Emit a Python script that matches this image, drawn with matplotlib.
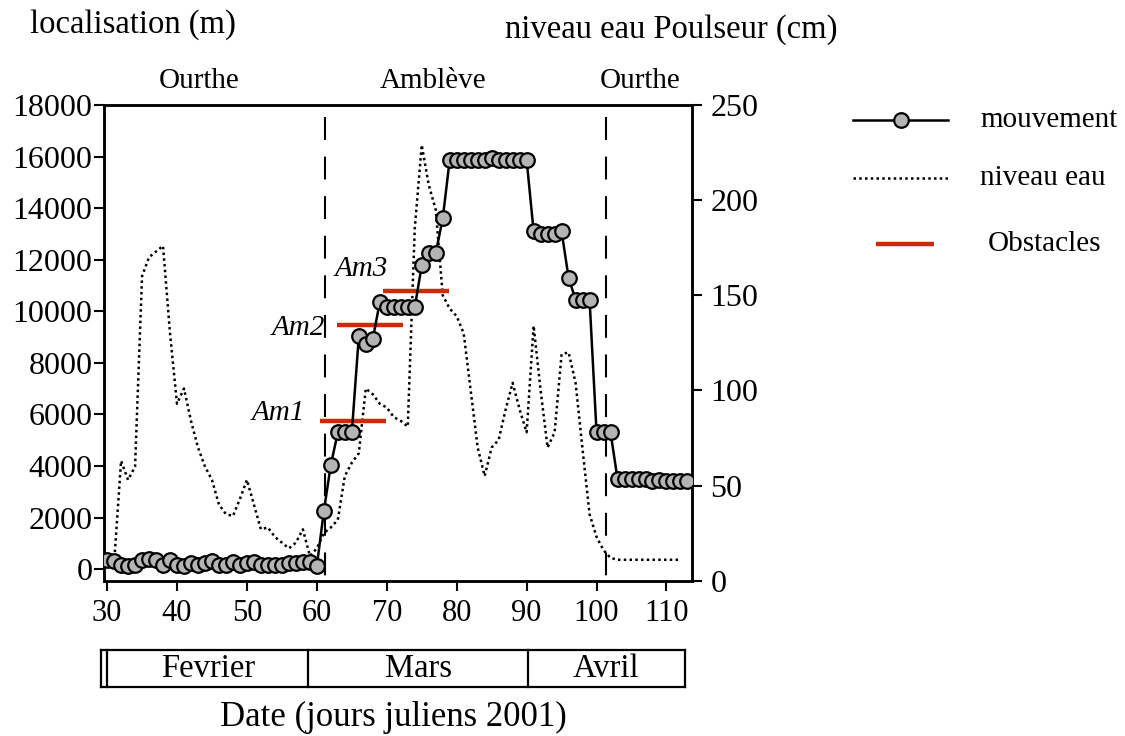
import matplotlib
matplotlib.use("Agg")
import matplotlib.pyplot as plt
from matplotlib.lines import Line2D

plt.rcParams['font.family'] = ['Liberation Serif', 'DejaVu Serif']

# ---------------- data ----------------
move_days = list(range(30, 114))
move_vals = [350, 330, 150, 120, 150, 370, 380, 350, 150, 350,
             150, 120, 250, 150, 230, 300, 150, 150, 280, 150,
             250, 280, 150, 150, 150, 150, 230, 230, 280, 270,
             130, 2250, 4050, 5300, 5300, 5300, 9030, 8750, 8930, 10350,
             10150, 10150, 10150, 10150, 10150, 11780, 12260, 12260, 13600, 15870,
             15870, 15870, 15870, 15870, 15870, 15950, 15870, 15870, 15870, 15870,
             15870, 13100, 13000, 13000, 13000, 13100, 11300, 10450, 10450, 10450,
             5300, 5300, 5300, 3500, 3500, 3500, 3500, 3500, 3400, 3450,
             3400, 3400, 3400, 3400]

water_days = list(range(31, 113))
water_vals = [9, 63, 53, 60, 160, 170, 173, 176, 130, 93,
              101, 84, 70, 60, 53, 40, 35, 34, 43, 53,
              40, 27, 28, 23, 20, 17, 20, 27, 13, 17,
              25, 28, 32, 55, 62, 67, 101, 98, 93, 91,
              86, 84, 81, 185, 229, 208, 195, 150, 143, 139,
              130, 100, 70, 55, 70, 74, 90, 104, 90, 78,
              134, 100, 70, 78, 119, 120, 104, 69, 35, 23,
              16, 12, 11, 11, 11, 11, 11, 11, 11, 11,
              11, 11]

obstacle_names = ['Am1', 'Am2', 'Am3']
obstacle_start = [60.5, 62.9, 69.5]
obstacle_end = [69.9, 72.3, 78.9]
obstacle_loc = [5750, 9470, 10780]

river_labels = ['Ourthe', 'Amblève', 'Ourthe']
river_label_days = [43.2, 76.6, 106.2]
river_bounds = [61.2, 101.3]

months = ['Fevrier', 'Mars', 'Avril']
month_bounds = [30.0, 58.8, 90.2, 112.6]

x_ticks = [30, 40, 50, 60, 70, 80, 90, 100, 110]
left_ticks = list(range(0, 18001, 2000))
right_ticks = [0, 50, 100, 150, 200, 250]

FS = 21
FS_BIG = 23.5
RED = '#cc2a0c'

fig = plt.figure(figsize=(11.25, 7.36), dpi=100)
ax = fig.add_axes([0.0927, 0.211, 0.5221, 0.6463])
ax2 = ax.twinx()

ax.set_xlim(29.6, 113.6)
ax.set_ylim(-450, 18000)
ax2.set_ylim(0, 250)

# water level (right axis)
ax2.plot(water_days, water_vals, color='black', lw=1.8, linestyle=(0, (1, 1.3)), zorder=1)

# river boundaries
for b in river_bounds:
    ax.plot([b, b], [17550, -450], color='black', lw=1.5, linestyle=(0, (11, 8)), zorder=1)

# obstacles
for s, e, v in zip(obstacle_start, obstacle_end, obstacle_loc):
    ax.plot([s, e], [v, v], color=RED, lw=3.2, solid_capstyle='butt', zorder=2)

# movement
ax.plot(move_days, move_vals, color='black', lw=1.8, marker='o', ms=10.5,
        mfc='#b4b4b4', mec='black', mew=1.6, zorder=3)

ax.set_zorder(ax2.get_zorder() + 1)
ax.patch.set_visible(False)

# obstacle labels
ax.text(58.3, 6050, obstacle_names[0], fontsize=FS, style='italic', ha='right', va='center')
ax.text(61.2, 9350, obstacle_names[1], fontsize=FS, style='italic', ha='right', va='center')
ax.text(62.6, 11650, obstacle_names[2], fontsize=FS, style='italic', ha='left', va='center')

# river labels
for lbl, d in zip(river_labels, river_label_days):
    ax.text(d, 1.05, lbl, transform=ax.get_xaxis_transform(), fontsize=FS,
            ha='center', va='center')

# ticks
ax.set_xticks(x_ticks)
ax.set_yticks(left_ticks)
ax2.set_yticks(right_ticks)
ax.tick_params(axis='both', direction='out', length=7.5, width=1.5)
ax.tick_params(axis='y', pad=1, labelsize=23)
ax.tick_params(axis='x', pad=6, labelsize=22)
ax2.tick_params(axis='y', direction='out', length=7.5, width=1.5, labelsize=23, pad=6)
for a in (ax, ax2):
    for sp in a.spines.values():
        sp.set_linewidth(1.8)

# axis titles
fig.text(30 / 1125, 1 - 25 / 736, 'localisation (m)', fontsize=FS_BIG, ha='left', va='center')
fig.text(505 / 1125, 1 - 30 / 736, 'niveau eau Poulseur (cm)', fontsize=FS_BIG,
         ha='left', va='center')

# month bar
axm = fig.add_axes([0.0927, 1 - 687 / 736, 0.5221, 37 / 736])
axm.set_xlim(ax.get_xlim())
axm.set_ylim(0, 1)
axm.axis('off')
left_edge = 29.2
axm.plot([left_edge, month_bounds[-1]], [0, 0], color='black', lw=1.6, clip_on=False)
axm.plot([left_edge, month_bounds[-1]], [1, 1], color='black', lw=1.6, clip_on=False)
for b in [left_edge] + month_bounds:
    axm.plot([b, b], [0, 1], color='black', lw=1.6, clip_on=False)
for i, m in enumerate(months):
    axm.text((month_bounds[i] + month_bounds[i + 1]) / 2, 0.5, m, fontsize=FS_BIG,
             ha='center', va='center')
fig.text(393 / 1125, 1 - 717 / 736, 'Date (jours juliens 2001)', fontsize=25,
         ha='center', va='center')

# legend (manual)
lx0, lx1 = 853 / 1125, 948 / 1125
ys = [1 - 120 / 736, 1 - 178 / 736, 1 - 244 / 736]
fig.add_artist(Line2D([lx0, lx1], [ys[0], ys[0]], color='black', lw=1.8))
fig.add_artist(Line2D([(lx0 + lx1) / 2], [ys[0]], marker='o', ms=10.5, mfc='#b4b4b4',
                      mec='black', mew=1.6, color='black'))
fig.add_artist(Line2D([lx0, lx1], [ys[1], ys[1]], color='black', lw=1.8,
                      linestyle=(0, (1, 1.3))))
fig.add_artist(Line2D([876 / 1125, 934 / 1125], [ys[2], ys[2]], color=RED, lw=3.2,
                      solid_capstyle='butt'))
fig.text(980 / 1125, ys[0], 'mouvement', fontsize=FS, ha='left', va='center')
fig.text(980 / 1125, ys[1], 'niveau eau', fontsize=FS, ha='left', va='center')
fig.text(988 / 1125, ys[2], 'Obstacles', fontsize=FS, ha='left', va='center')

fig.savefig('out.png', dpi=100)
